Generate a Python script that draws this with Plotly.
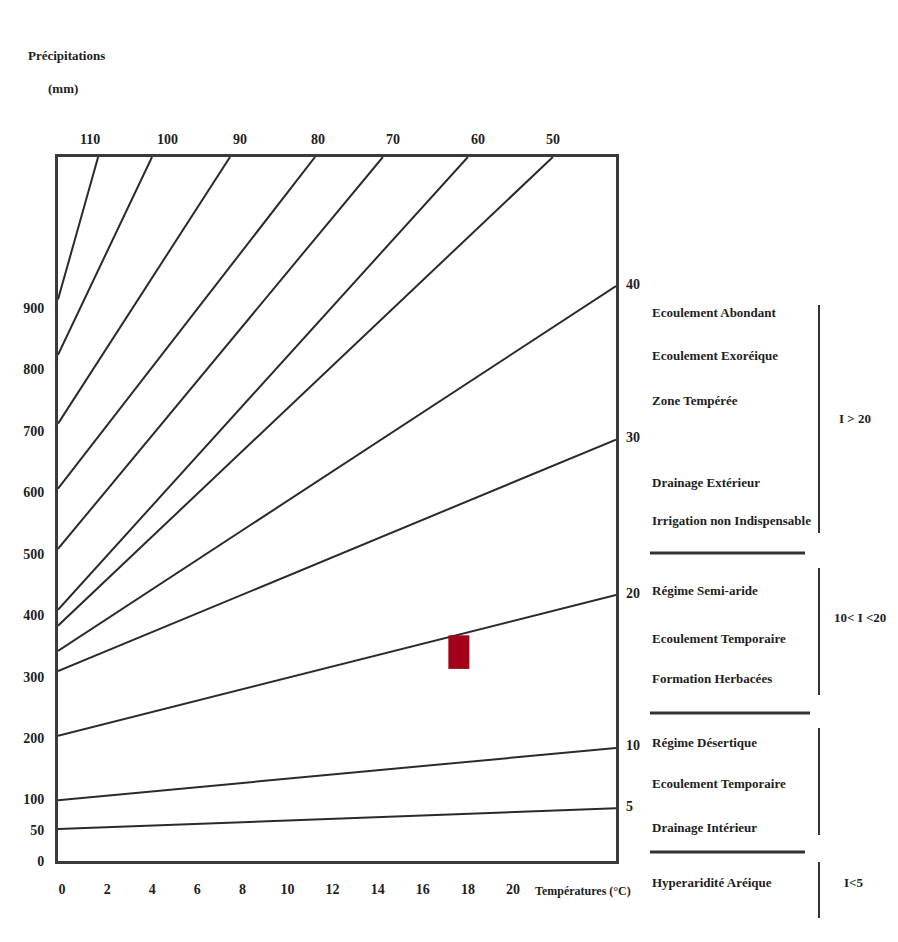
import plotly.graph_objects as go

# ---------------- data ----------------
index_labels = [110, 100, 90, 80, 70, 60, 50, 40, 30, 20, 10, 5]
# precipitation where each iso-index line meets the left (y) axis
precip_at_axis = [914, 824, 712, 606, 508, 409, 383, 342, 309, 204, 99, 52]
# end point of each line (top frame or right frame)
end_temp = [1.60, 3.99, 7.45, 11.22, 14.23, 18.00, 21.77, 24.57, 24.57, 24.57, 24.57, 24.57]
end_precip = [1146, 1146, 1146, 1146, 1146, 1146, 1146, 936, 686, 433, 184, 86]

x_ticks = [0, 2, 4, 6, 8, 10, 12, 14, 16, 18, 20]
y_ticks = [0, 50, 100, 200, 300, 400, 500, 600, 700, 800, 900]

station_temp = [17.6]
station_precip = [340]

T_MIN, T_MAX = -0.18, 24.57
P_MIN, P_MAX = 0, 1146

zones_text = [
    "Ecoulement Abondant", "Ecoulement Exoréique", "Zone Tempérée",
    "Drainage Extérieur", "Irrigation non Indispensable",
    "Régime Semi-aride", "Ecoulement Temporaire", "Formation Herbacées",
    "Régime Désertique", "Ecoulement Temporaire", "Drainage Intérieur",
    "Hyperaridité Aréique",
]
class_text = ["I > 20", "10< I <20", "I<5"]

# ---------------- figure ----------------
PAGE_OFF = 8                       # default body margin of the html page
W, H = 898 - PAGE_OFF, 942 - PAGE_OFF
L, R, T, B = 58, 616, 157, 861     # plot frame in page pixels

def px(x):
    return (x - L) / (R - L)

def py(y):
    return (B - y) / (B - T)

FONT = "Liberation Serif"
LINE_COL = "#2a2a2a"
TXT_COL = "#1e1e1e"

fig = go.Figure()
for lab, p0, te, pe in zip(index_labels, precip_at_axis, end_temp, end_precip):
    fig.add_trace(go.Scatter(
        x=[T_MIN, te], y=[p0, pe], mode="lines",
        line=dict(color=LINE_COL, width=2), showlegend=False, hoverinfo="skip",
        name=str(lab)))

fig.add_trace(go.Scatter(
    x=station_temp, y=station_precip, mode="markers",
    marker=dict(symbol="line-ns", size=24, color="#a3001c",
                line=dict(color="#a3001c", width=21)),
    showlegend=False))

annotations = []
top_dx = [-8, 15, 10, 3, 10, 10, 0]
k = 0
for lab, te, pe in zip(index_labels, end_temp, end_precip):
    if pe >= P_MAX:
        annotations.append(dict(x=te, y=pe, xref="x", yref="y", text=str(lab),
                                showarrow=False, xshift=top_dx[k], yshift=18,
                                font=dict(family=FONT, size=14, color=TXT_COL, weight="bold")))
        k += 1
    else:
        annotations.append(dict(x=te, y=pe, xref="x", yref="y", text=str(lab),
                                showarrow=False, xanchor="left", xshift=8, yshift=2,
                                font=dict(family=FONT, size=14, color=TXT_COL, weight="bold")))

zone_y = [312, 355, 400, 482, 520, 590, 638, 678, 742, 783, 827, 882]
for txt, yy in zip(zones_text, zone_y):
    annotations.append(dict(x=px(650), y=py(yy), xref="paper", yref="paper", text=txt,
                            showarrow=False, xanchor="left", yanchor="middle",
                            font=dict(family=FONT, size=13, color=TXT_COL, weight="bold")))

class_pos = [(855, 418), (860, 617), (853, 882)]
for txt, (xx, yy) in zip(class_text, class_pos):
    annotations.append(dict(x=px(xx), y=py(yy), xref="paper", yref="paper", text=txt,
                            showarrow=False, xanchor="center", yanchor="middle",
                            font=dict(family=FONT, size=13, color=TXT_COL, weight="bold")))

annotations.append(dict(x=px(66), y=py(55), xref="paper", yref="paper", text="Précipitations",
                        showarrow=False, xanchor="center", yanchor="middle",
                        font=dict(family=FONT, size=13, color=TXT_COL, weight="bold")))
annotations.append(dict(x=px(63), y=py(88), xref="paper", yref="paper", text="(mm)",
                        showarrow=False, xanchor="center", yanchor="middle",
                        font=dict(family=FONT, size=13, color=TXT_COL, weight="bold")))
annotations.append(dict(x=px(533), y=py(891), xref="paper", yref="paper", text="Températures (°C)",
                        showarrow=False, xanchor="left", yanchor="middle",
                        font=dict(family=FONT, size=12, color=TXT_COL, weight="bold")))

shapes = []
def seg(x0, y0, x1, y1, w=2):
    shapes.append(dict(type="line", xref="paper", yref="paper",
                       x0=px(x0), y0=py(y0), x1=px(x1), y1=py(y1),
                       line=dict(color="#333333", width=w)))

seg(819, 305, 819, 533)
seg(819, 568, 819, 695)
seg(819, 728, 819, 835)
seg(819, 862, 819, 918)
seg(650, 553, 805, 553, 3)
seg(650, 713, 810, 713, 3)
seg(650, 852, 805, 852, 3)

axis_font = dict(family=FONT, size=14, color=TXT_COL, weight="bold")
fig.update_layout(
    width=W, height=H,
    margin=dict(l=L - PAGE_OFF, r=W + PAGE_OFF - R, t=T - PAGE_OFF, b=H + PAGE_OFF - B),
    paper_bgcolor="white", plot_bgcolor="white",
    annotations=annotations, shapes=shapes,
    xaxis=dict(range=[T_MIN, T_MAX], tickvals=x_ticks, ticktext=[str(v) for v in x_ticks],
               showgrid=False, zeroline=False, showline=True, mirror=True,
               linecolor="#3a3a3a", linewidth=3, ticks="", tickfont=axis_font,
               ticklabelstandoff=13),
    yaxis=dict(range=[P_MIN, P_MAX], tickvals=y_ticks, ticktext=[str(v) for v in y_ticks],
               showgrid=False, zeroline=False, showline=True, mirror=True,
               linecolor="#3a3a3a", linewidth=3, ticks="", tickfont=axis_font,
               ticklabelstandoff=8),
)

fig.write_html("out.html")
